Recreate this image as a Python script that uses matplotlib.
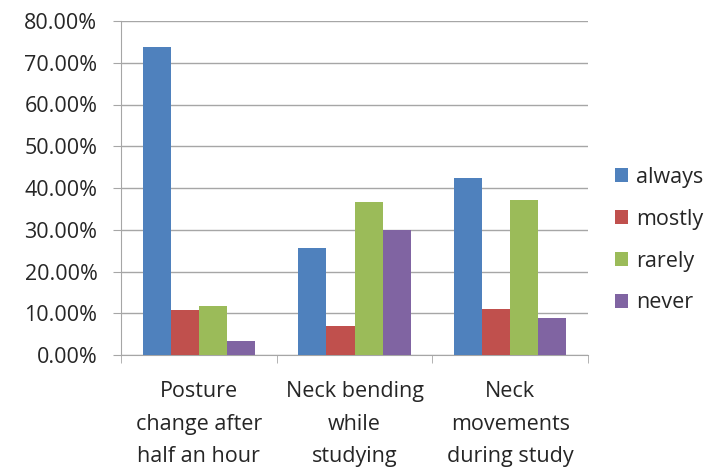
import numpy as np
import matplotlib.pyplot as plt
from matplotlib.ticker import FuncFormatter, FixedLocator

plt.rcParams["font.family"] = ["Open Sans", "DejaVu Sans"]

# survey answers, percent of respondents
categories = ["Posture\nchange after\nhalf an hour",
              "Neck bending\nwhile\nstudying",
              "Neck\nmovements\nduring study"]
series_names = ["always", "mostly", "rarely", "never"]
always = [73.7, 25.7, 42.3]
mostly = [10.8, 6.9, 10.9]
rarely = [11.7, 36.7, 37.1]
never = [3.4, 29.9, 8.8]

colors = ["#4F81BD", "#C0504D", "#9BBB59", "#8064A2"]

fig = plt.figure(figsize=(7.13, 4.70), dpi=100)
ax = fig.add_axes([121 / 713, 1 - 355 / 470, 467 / 713, 334 / 470])

x = np.arange(len(categories))
bw = 0.18
for i, (vals, name, c) in enumerate(zip([always, mostly, rarely, never], series_names, colors)):
    ax.bar(x + (i - 1.5) * bw, vals, width=bw, color=c, label=name, zorder=3)

ax.set_xlim(-0.5, 2.5)
ax.set_ylim(0, 80)
ax.set_yticks(np.arange(0, 81, 10))
ax.yaxis.set_major_formatter(FuncFormatter(lambda v, _: f"{v:.2f}%"))
ax.grid(axis="y", color="#A6A6A6", linewidth=1.0, zorder=0)

# category labels centered, ticks at the group boundaries
ax.set_xticks(x)
ax.set_xticklabels(categories, fontsize=15.5, linespacing=1.72, color="#262626")
ax.tick_params(axis="x", length=0, pad=19)
ax.xaxis.set_minor_locator(FixedLocator([-0.5, 0.5, 1.5, 2.5]))
ax.tick_params(axis="x", which="minor", length=6, color="#A6A6A6")
ax.tick_params(axis="y", length=6, color="#A6A6A6", labelsize=15.5,
               labelcolor="#262626", pad=11)

for s in ["top", "right"]:
    ax.spines[s].set_visible(False)
ax.spines["left"].set_color("#A6A6A6")
ax.spines["bottom"].set_color("#A6A6A6")

leg = ax.legend(loc="center left", bbox_to_anchor=(1.016, 0.344), frameon=False,
                fontsize=15.5, handlelength=0.6, handleheight=0.6,
                handletextpad=0.4, labelspacing=0.97)
for t in leg.get_texts():
    t.set_color("#262626")

fig.savefig("out.png", dpi=100)
